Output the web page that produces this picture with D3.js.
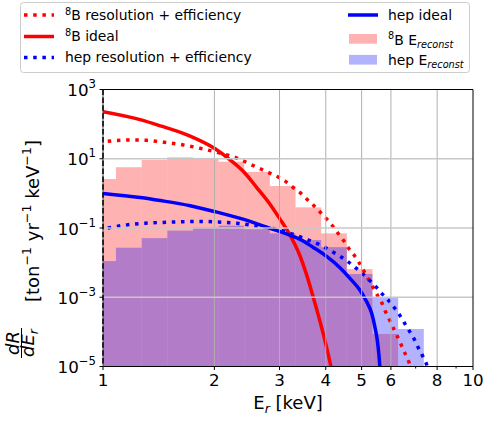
<!DOCTYPE html>
<html>
<head>
<meta charset="utf-8">
<script src="https://cdn.jsdelivr.net/npm/d3@7"></script>
<style>
  body { margin: 0; background: #fff; }
  svg { display: block; font-family: "DejaVu Sans", sans-serif; }
</style>
</head>
<body>
<script>
// ---- recoil spectra (E in keV, rate in ton^-1 yr^-1 keV^-1) ----
const b8IdealE = [1.00, 1.26, 1.43, 1.72, 2.00, 2.20, 2.40, 2.60, 2.83, 3.00, 3.18, 3.40, 3.55, 3.70, 3.85, 4.00, 4.13, 4.20];
const b8IdealR = [229, 135, 89, 45, 20, 9.5, 4.2, 1.5, 0.48, 0.19, 0.071, 0.0166, 0.0045, 1.0e-3, 2.2e-4, 4.5e-5, 1.0e-5, 4e-6];

const b8ResE = [1.03, 1.17, 1.31, 1.46, 1.65, 1.83, 2.05, 2.30, 2.55, 2.83, 3.10, 3.26, 3.41, 3.55, 3.70, 3.86, 4.01, 4.16, 4.31, 4.46, 4.60, 4.77, 4.92, 5.21, 5.36, 5.51, 5.67, 5.79, 5.94, 6.09, 6.24, 6.40, 6.55, 6.70, 6.80];
const b8ResR = [32, 35, 34, 30, 25, 20, 15, 10.5, 6.3, 3.8, 2.3, 1.5, 1.05, 0.69, 0.46, 0.29, 0.19, 0.12, 0.072, 0.045, 0.027, 0.0166, 0.010, 0.0034, 0.0020, 0.00117, 6.9e-4, 4.0e-4, 2.3e-4, 1.3e-4, 7.6e-5, 4.2e-5, 2.4e-5, 1.4e-5, 9e-6];

const hepIdealE = [1.00, 1.26, 1.43, 1.72, 2.00, 2.35, 2.83, 3.20, 3.41, 3.70, 4.03, 4.37, 4.65, 4.95, 5.16, 5.32, 5.43, 5.51, 5.57, 5.60, 5.62];
const hepIdealR = [1.0, 0.76, 0.62, 0.44, 0.30, 0.19, 0.098, 0.062, 0.047, 0.0275, 0.0148, 0.0071, 0.0035, 0.0016, 7.4e-4, 3.5e-4, 1.4e-4, 5.9e-5, 2.1e-5, 1.0e-5, 6e-6];

const hepResE = [1.03, 1.16, 1.30, 1.455, 1.63, 1.83, 2.05, 2.30, 2.575, 2.86, 3.01, 3.20, 3.37, 3.59, 3.78, 3.98, 4.19, 4.39, 4.60, 4.82, 5.04, 5.25, 5.47, 5.66, 5.90, 6.12, 6.33, 6.53, 6.69, 6.90, 7.07, 7.28, 7.46, 7.55];
const hepResR = [0.10, 0.123, 0.138, 0.145, 0.151, 0.155, 0.148, 0.138, 0.115, 0.098, 0.087, 0.071, 0.058, 0.045, 0.036, 0.0275, 0.020, 0.0148, 0.0105, 0.0071, 0.0047, 0.0031, 0.0020, 0.0013, 8.3e-4, 5.1e-4, 3.1e-4, 1.8e-4, 1.17e-4, 6.9e-5, 4.0e-5, 2.2e-5, 1.3e-5, 9e-6];

// ---- reconstructed-energy histograms (log-spaced bins) ----
const binEdges = [0.924, 1.084, 1.272, 1.492, 1.750, 2.053, 2.408, 2.825, 3.314, 3.888, 4.561, 5.350, 6.276, 7.363];
const b8Hist  = [2.6, 5.7, 9.2, 11.0, 10.6, 8.2, 4.2, 1.63, 0.395, 0.070, 0.0065, 8.7e-5, 0];
const hepHist = [0.0111, 0.027, 0.051, 0.084, 0.105, 0.117, 0.092, 0.070, 0.045, 0.028, 0.0047, 1.0e-3, 1.21e-4];

// ---- axis ticks ----
const xTicks = [1, 2, 3, 4, 5, 6, 8, 10];
const xMinorTicks = [7, 9];
const yTickExps = [3, 1, -1, -3, -5];

const W = 485, H = 424;
const L = 103, R = 473, T = 89.5, B = 366.5;

const svg = d3.select("body").append("svg").attr("width", W).attr("height", H);

const x = d3.scaleLog().domain([1, 10]).range([L, R]);
const y = d3.scaleLog().domain([1e-5, 1e3]).range([B, T]);

svg.append("defs").append("clipPath").attr("id", "plot")
  .append("rect").attr("x", L).attr("y", T).attr("width", R - L).attr("height", B - T);

const plot = svg.append("g").attr("clip-path", "url(#plot)");

// histograms
function drawHist(vals, color) {
  const bins = vals.map((v, i) => ({ x0: binEdges[i], x1: binEdges[i + 1], v })).filter(d => d.v > 0);
  plot.append("g").selectAll("rect").data(bins).join("rect")
    .attr("x", d => x(d.x0))
    .attr("width", d => x(d.x1) - x(d.x0))
    .attr("y", d => y(d.v))
    .attr("height", d => B + 2 - y(d.v))
    .attr("fill", color)
    .attr("fill-opacity", 0.3);
}
drawHist(b8Hist, "red");
drawHist(hepHist, "blue");

// grid
const grid = svg.append("g");
grid.selectAll("line.gx").data(xTicks.filter(t => t > 1 && t < 10)).join("line")
  .attr("x1", d => x(d)).attr("x2", d => x(d)).attr("y1", T).attr("y2", B)
  .attr("stroke", "#b0b0b0").attr("stroke-width", 1);
grid.selectAll("line.gy").data(yTickExps.filter(e => e > -5 && e < 3)).join("line")
  .attr("x1", L).attr("x2", R).attr("y1", d => y(Math.pow(10, d))).attr("y2", d => y(Math.pow(10, d)))
  .attr("stroke", "#c8c8c8").attr("stroke-width", 1.4);

// curves
const line = d3.line().x(d => x(d[0])).y(d => y(d[1])).curve(d3.curveMonotoneX);
function drawCurve(E, Rt, color, dotted) {
  plot.append("path").datum(d3.zip(E, Rt))
    .attr("d", line)
    .attr("fill", "none")
    .attr("stroke", color)
    .attr("stroke-width", 3.5)
    .attr("stroke-dasharray", dotted ? "3.5,5.7" : null);
}
drawCurve(b8ResE, b8ResR, "red", true);
drawCurve(b8IdealE, b8IdealR, "red", false);
drawCurve(hepResE, hepResR, "blue", true);
drawCurve(hepIdealE, hepIdealR, "blue", false);

// spines
const sp = svg.append("g").attr("stroke", "#000").attr("stroke-width", 1);
sp.append("line").attr("x1", L).attr("x2", R).attr("y1", T).attr("y2", T);
sp.append("line").attr("x1", L).attr("x2", R).attr("y1", B).attr("y2", B);
sp.append("line").attr("x1", R).attr("x2", R).attr("y1", T).attr("y2", B);
sp.append("line").attr("x1", L).attr("x2", L).attr("y1", T).attr("y2", B).attr("stroke", "#444");
// threshold marker at 1 keV
svg.append("line").attr("x1", x(1)).attr("x2", x(1)).attr("y1", T).attr("y2", B)
  .attr("stroke", "#000").attr("stroke-width", 1.5).attr("stroke-dasharray", "5.5,2.4");

// x ticks
const tk = svg.append("g").attr("stroke", "#000").attr("stroke-width", 1);
xTicks.forEach(t => tk.append("line").attr("x1", x(t)).attr("x2", x(t)).attr("y1", B).attr("y2", B + 3.5));
xMinorTicks.forEach(t => tk.append("line").attr("x1", x(t)).attr("x2", x(t)).attr("y1", B).attr("y2", B + 2));
yTickExps.forEach(e => tk.append("line").attr("x1", L - 3.5).attr("x2", L).attr("y1", y(Math.pow(10, e))).attr("y2", y(Math.pow(10, e))));

const TFS = 16.7;
svg.append("g").selectAll("text").data(xTicks).join("text")
  .attr("x", d => x(d)).attr("y", 385.5)
  .attr("text-anchor", "middle").attr("font-size", TFS).attr("fill", "#000")
  .text(d => d);

yTickExps.forEach(e => {
  const t = svg.append("text").attr("x", 96).attr("y", y(Math.pow(10, e)) + 6.5)
    .attr("text-anchor", "end").attr("font-size", TFS).attr("fill", "#000");
  t.append("tspan").text("10");
  t.append("tspan").attr("dy", -8).attr("font-size", TFS * 0.7).text(String(e).replace("-", "\u2212"));
});

// x label
const xl = svg.append("text").attr("x", (L + R) / 2).attr("y", 409).attr("text-anchor", "middle").attr("font-size", 18);
xl.append("tspan").text("E");
xl.append("tspan").attr("dy", 3.5).attr("font-size", 12.6).attr("font-style", "italic").text("r");
xl.append("tspan").attr("dy", -3.5).text(" [keV]");

// y label: fraction
const fr = svg.append("g").attr("transform", "translate(0,343) rotate(-90)");
const num = fr.append("text").attr("x", 0).attr("y", 19).attr("text-anchor", "middle").attr("font-size", 18).attr("font-style", "italic");
num.text("dR");
const den = fr.append("text").attr("x", 0).attr("y", 34).attr("text-anchor", "middle").attr("font-size", 18).attr("font-style", "italic");
den.append("tspan").text("dE");
den.append("tspan").attr("dy", 3.5).attr("font-size", 12.6).text("r");
fr.append("line").attr("x1", -15).attr("x2", 15).attr("y1", 21.5).attr("y2", 21.5).attr("stroke", "#000").attr("stroke-width", 1);

// y label: units
const un = svg.append("g").attr("transform", "translate(31,302) rotate(-90)")
  .append("text").attr("x", 0).attr("y", 0).attr("font-size", 18);
const unitParts = ["[ton", " yr", " keV"];
unitParts.forEach(p => {
  un.append("tspan").attr("dy", un.selectAll("tspan").size() ? 7.5 : 0).text(p);
  un.append("tspan").attr("dy", -7.5).attr("font-size", 12.6).text("\u22121");
});
un.append("tspan").attr("dy", 7.5).text("]");

// legend
const lg = svg.append("g");
lg.append("rect").attr("x", 20.5).attr("y", 2.5).attr("width", 449).attr("height", 70).attr("rx", 3)
  .attr("fill", "#fff").attr("fill-opacity", 0.8).attr("stroke", "#cccccc").attr("stroke-width", 1);

const LFS = 13.9;
function legText(xp, yp, parts) {
  const t = lg.append("text").attr("x", xp).attr("y", yp).attr("font-size", LFS);
  parts.forEach(p => {
    const s = t.append("tspan").text(p.t);
    if (p.dy) s.attr("dy", p.dy);
    if (p.small) s.attr("font-size", LFS * 0.7);
    if (p.it) s.attr("font-style", "italic");
  });
}
function legLine(yp, color, dotted, x0) {
  lg.append("line").attr("x1", x0).attr("x2", x0 + 30).attr("y1", yp).attr("y2", yp)
    .attr("stroke", color).attr("stroke-width", 3.5).attr("stroke-dasharray", dotted ? "3.5,5.7" : null);
}
function legPatch(yc, color) {
  lg.append("rect").attr("x", 349).attr("y", yc - 4.8).attr("width", 28).attr("height", 9.7)
    .attr("fill", color).attr("fill-opacity", 0.3);
}

legLine(15, "red", true, 24);
legText(65, 20, [{ t: "8", dy: -5.5, small: true }, { t: "B resolution + efficiency", dy: 5.5 }]);
legLine(36.5, "red", false, 24);
legText(65, 41, [{ t: "8", dy: -5.5, small: true }, { t: "B ideal", dy: 5.5 }]);
legLine(57.5, "blue", true, 24);
legText(65, 62, [{ t: "hep resolution + efficiency" }]);

legLine(15, "blue", false, 348);
legText(388, 20, [{ t: "hep ideal" }]);
legPatch(38.8, "red");
legText(388, 44.5, [{ t: "8", dy: -5.5, small: true }, { t: "B E", dy: 5.5 }, { t: "reconst", dy: 3, small: true, it: true }]);
legPatch(59.7, "blue");
legText(388, 65, [{ t: "hep E" }, { t: "reconst", dy: 3, small: true, it: true }]);
</script>
</body>
</html>
